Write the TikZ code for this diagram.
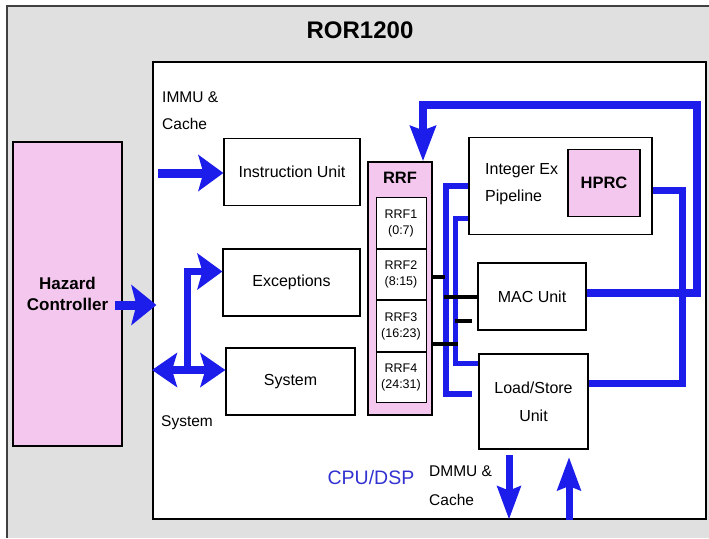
\documentclass[tikz,border=0pt]{standalone}
\usepackage{fontspec}
\setmainfont{Liberation Sans}
\usetikzlibrary{positioning,arrows.meta}
\definecolor{busblue}{RGB}{28,28,235}
\definecolor{hazpink}{RGB}{244,200,238}
\definecolor{framegray}{RGB}{224,224,224}
\definecolor{cpublue}{RGB}{50,50,210}
\tikzset{
  unit/.style={draw=black, line width=1.2pt, fill=white, align=center, inner sep=2pt,
    font=\fontsize{16}{19.5}\selectfont},
  pinkunit/.style={unit, fill=hazpink, font=\bfseries\fontsize{16.5}{20}\selectfont},
  rrfrow/.style={draw=black, line width=1pt, fill=white, minimum width=50pt,
    minimum height=50.5pt, inner sep=0pt, align=center, font=\fontsize{12.5}{16}\selectfont},
  plain/.style={align=left, inner sep=1pt, font=\fontsize{15.5}{19}\selectfont},
  bigarrow/.style={draw=busblue, line width=9pt, -{Stealth[length=25pt,width=36pt,inset=5pt]}},
  dblarrow/.style={draw=busblue, line width=8pt,
    {Stealth[length=25pt,width=34pt,inset=5pt]}-{Stealth[length=25pt,width=34pt,inset=5pt]}},
  slimarrow/.style={draw=busblue, line width=7pt, -{Stealth[length=33pt,width=23pt,inset=4pt]}},
  feedarrow/.style={draw=busblue, line width=8pt, -{Stealth[length=35pt,width=25pt,inset=4pt]}},
  bus/.style={draw=busblue, line width=6pt},
  wire/.style={draw=black, line width=4pt},
}
\begin{document}
\begin{tikzpicture}[x=1pt, y=-1pt]
  \useasboundingbox (0,0) rectangle (709,538);
  % outer frame
  \fill[framegray] (7,6) rectangle (709,538);
  \draw[line width=1.5pt, black!75] (7,538) |- (709,6);
  \node[font=\bfseries\fontsize{24}{28}\selectfont] (title) at (360,30) {ROR1200};

  % CPU/DSP area
  \node[draw, line width=1.2pt, fill=white, minimum width=553pt, minimum height=457pt,
    inner sep=0pt] (cpu) at (429.5,290.5) {};
  \node[pinkunit, font=\bfseries\fontsize{17}{21}\selectfont, minimum width=109pt,
    minimum height=304pt] (hazard) at (67.5,294) {Hazard\\Controller};

  \node[unit, minimum width=136pt, minimum height=67pt] (iu) at (292,172) {Instruction Unit};
  \node[unit, minimum width=137pt, minimum height=67pt] (exc) at (291.5,282.5) {Exceptions};
  \node[unit, minimum width=129pt, minimum height=67pt] (sys) at (290.5,381.5) {System};

  % register file
  \node[pinkunit, minimum width=64pt, minimum height=253pt] (rrf) at (400,288.5) {};
  \node[font=\bfseries\fontsize{16.5}{20}\selectfont] (rrftitle) at (400,178) {RRF};
  \node[rrfrow] (rrf1) at (401,223) {RRF1\\(0:7)};
  \node[rrfrow, below=0pt of rrf1] (rrf2) {RRF2\\(8:15)};
  \node[rrfrow, below=0pt of rrf2] (rrf3) {RRF3\\(16:23)};
  \node[rrfrow, below=0pt of rrf3] (rrf4) {RRF4\\(24:31)};

  % execution units
  \node[unit, minimum width=183pt, minimum height=97pt] (intex) at (560.5,186) {};
  \node[plain, font=\fontsize{16}{27}\selectfont, anchor=west] (intexlabel) at (484,184) {Integer Ex\\Pipeline};
  \node[pinkunit, minimum width=72pt, minimum height=67pt] (hprc) at (604,183) {HPRC};
  \node[unit, minimum width=108pt, minimum height=67pt] (mac) at (532,296.5) {MAC Unit};
  \node[unit, font=\fontsize{16}{28}\selectfont, minimum width=109pt, minimum height=95pt] (ls) at (533.5,401.5) {Load/Store\\Unit};

  % labels
  \node[plain, font=\fontsize{15.5}{27}\selectfont, anchor=west] (immu) at (161,111) {IMMU \&\\Cache};
  \node[plain] (syslabel) at (187,423) {System};
  \node[plain, font=\fontsize{15.5}{29}\selectfont, anchor=west] (dmmu) at (428,486) {DMMU \&\\Cache};
  \node[text=cpublue, font=\fontsize{19.5}{23}\selectfont] (cpulabel) at (371,478) {CPU/DSP};

  % bend points
  \coordinate (hazout) at (115,305);
  \coordinate (immuin) at (158,173);
  \coordinate (sysin) at (152,370);
  \coordinate (fork) at (187,370);
  \coordinate (loopR) at (697,105);
  \coordinate (hprcR) at (682,190);
  \coordinate (busA) at (446,186);
  \coordinate (busAend) at (472,394);
  \coordinate (busB) at (455,218);
  \coordinate (dmmuout) at (509,455);
  \coordinate (dmmuin) at (569,457);

  % blue connections
  \draw[bigarrow, -{Stealth[length=25pt,width=40pt,inset=5pt]}] (hazout) -- ([xshift=4pt]cpu.west |- hazout);
  \draw[bigarrow] (immuin) -- (iu.west |- immuin);
  \draw[dblarrow] (sysin) -- ([yshift=11.5pt]sys.west);
  \draw[bigarrow, line width=7pt] (fork) |- ([yshift=11pt]exc.west);
  \draw[feedarrow] ([yshift=3.5pt]mac.east) -| (loopR) -| ([xshift=23pt]rrf.north);
  \draw[bus, line width=7pt] (intex.east |- hprcR) -- (hprcR) |- ([yshift=18pt]ls.east);
  \draw[bus] (intex.west) -- (busA) |- (busAend);
  \draw[bus, line width=5pt] (intex.west |- busB) -- (busB) |- ([yshift=38.5pt]ls.west);
  \draw[slimarrow] (dmmuout) -- (cpu.south -| dmmuout);
  \draw[slimarrow] (cpu.south -| dmmuin) -- (dmmuin);

  % black stubs
  \draw[wire] ([yshift=11.5pt]rrf.east) -- ++(12,0);
  \draw[wire] (mac.west) -- ++(-33,0);
  \draw[wire] ([xshift=-5pt,yshift=-24.5pt]mac.west) -- ++(-17,0);
  \draw[wire] ([yshift=-55.5pt]rrf.east) -- ++(25,0);
\end{tikzpicture}
\end{document}
